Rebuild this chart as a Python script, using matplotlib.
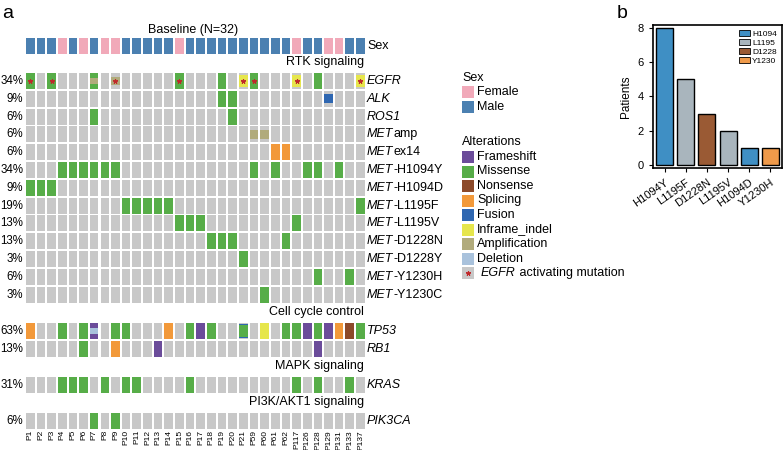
import matplotlib.pyplot as plt
from matplotlib.patches import Rectangle

# patients (columns)
patients = ['P%d' % i for i in range(1, 22)] + ['P59', 'P60', 'P61', 'P62', 'P117', 'P126',
                                              'P128', 'P129', 'P131', 'P133', 'P137']
# sex: F/M per patient
sex = ['M', 'M', 'M', 'F', 'M', 'F', 'M', 'F', 'F', 'M', 'M', 'M', 'M', 'M', 'F', 'M',
       'M', 'M', 'M', 'M', 'M', 'M', 'M', 'M', 'M', 'F', 'M', 'M', 'F', 'F', 'M', 'M']

# alterations: (row, gene, suffix, {column index: list of alteration types})
groups = [
    ('RTK signaling', [
        ('EGFR', 'EGFR', '', {0: ['mis', 'star'], 2: ['mis', 'star'], 6: ['mis', 'amp'], 8: ['amp', 'star'],
                               14: ['mis', 'star'], 18: ['mis'], 20: ['inf', 'star'], 21: ['mis', 'star'],
                               25: ['inf', 'star'], 27: ['mis'], 31: ['inf', 'star']}),
        ('ALK', 'ALK', '', {18: ['mis'], 19: ['mis'], 28: ['fus']}),
        ('ROS1', 'ROS1', '', {6: ['mis'], 19: ['mis']}),
        ('METamp', 'MET', 'amp', {21: ['amp'], 22: ['amp']}),
        ('METex14', 'MET', 'ex14', {23: ['spl'], 24: ['spl']}),
        ('MET-H1094Y', 'MET', '-H1094Y', {i: ['mis'] for i in [3, 4, 5, 6, 7, 8, 21, 23, 26, 27, 29]}),
        ('MET-H1094D', 'MET', '-H1094D', {i: ['mis'] for i in [0, 1, 2]}),
        ('MET-L1195F', 'MET', '-L1195F', {i: ['mis'] for i in [9, 10, 11, 12, 13, 31]}),
        ('MET-L1195V', 'MET', '-L1195V', {i: ['mis'] for i in [14, 15, 16, 25]}),
        ('MET-D1228N', 'MET', '-D1228N', {i: ['mis'] for i in [17, 18, 19, 24]}),
        ('MET-D1228Y', 'MET', '-D1228Y', {20: ['mis']}),
        ('MET-Y1230H', 'MET', '-Y1230H', {27: ['mis'], 30: ['mis']}),
        ('MET-Y1230C', 'MET', '-Y1230C', {22: ['mis']}),
    ]),
    ('Cell cycle control', [
        ('TP53', 'TP53', '', {0: ['spl'], 3: ['mis'], 5: ['mis'], 6: ['fs', 'del'], 8: ['mis'], 9: ['mis'],
                               13: ['spl'], 15: ['mis'], 16: ['fs'], 17: ['mis'], 20: ['fus', 'mis'],
                               22: ['inf'], 24: ['mis'], 25: ['mis'], 26: ['fs'], 27: ['mis'], 28: ['fs'],
                               29: ['spl'], 30: ['non'], 31: ['mis']}),
        ('RB1', 'RB1', '', {5: ['mis'], 8: ['spl'], 12: ['fs'], 27: ['fs']}),
    ]),
    ('MAPK signaling', [
        ('KRAS', 'KRAS', '', {i: ['mis'] for i in [3, 4, 5, 7, 9, 10, 15, 25, 27, 30]}),
    ]),
    ('PI3K/AKT1 signaling', [
        ('PIK3CA', 'PIK3CA', '', {6: ['mis'], 8: ['mis']}),
    ]),
]

colors = {'fs': '#6b4c9a', 'mis': '#57ad48', 'non': '#8c4a2a', 'spl': '#f2993a', 'fus': '#2f67b1',
          'inf': '#e6e64c', 'amp': '#b1ab7c', 'del': '#a9c2dc'}
legend_names = [('fs', 'Frameshift'), ('mis', 'Missense'), ('non', 'Nonsense'), ('spl', 'Splicing'),
                ('fus', 'Fusion'), ('inf', 'Inframe_indel'), ('amp', 'Amplification'), ('del', 'Deletion')]
sex_colors = {'F': '#f1a9b9', 'M': '#4b80b1'}
grey = '#c8c8c8'

# panel b
bar_labels = ['H1094Y', 'L1195F', 'D1228N', 'L1195V', 'H1094D', 'Y1230H']
bar_values = [8, 5, 3, 2, 1, 1]
bar_groups = ['H1094', 'L1195', 'D1228', 'L1195', 'H1094', 'Y1230']
group_colors = {'H1094': '#3f8fc4', 'L1195': '#a9b5bd', 'D1228': '#9a5a34', 'Y1230': '#ef9a4a'}

plt.rcParams['font.family'] = 'Liberation Sans'
fig = plt.figure(figsize=(7.84, 4.5), dpi=100)
ax = fig.add_axes([0, 0, 1, 1])
ax.set_xlim(0, 784)
ax.set_ylim(450, 0)
ax.axis('off')

x0, cw, w = 26, 10.65, 8.6
h = 16
lab_x = 367
fs = 9

def cell(i, yc, kind, frac=1.0):
    ax.add_patch(Rectangle((x0 + i * cw, yc - h * frac / 2), w, h * frac, color=colors.get(kind, kind), lw=0))

ax.text(193, 30, 'Baseline (N=32)', ha='center', va='center', fontsize=fs)
ysex = 46
for i, s in enumerate(sex):
    cell(i, ysex, sex_colors[s])
ax.text(lab_x, ysex, 'Sex', va='center', fontsize=fs)

y = 62
for gname, genes in groups:
    ax.text(lab_x - 3, y, gname, ha='right', va='center', fontsize=fs)
    y += 19
    for row, gene, suffix, alts in genes:
        n = len(alts)
        ax.text(23.5, y, '%d%%' % int(100 * n / len(patients) + 0.5), ha='right', va='center', fontsize=8.3)
        t = ax.text(lab_x, y, gene, style='italic', va='center', fontsize=fs)
        if suffix:
            ax.annotate(suffix, xy=(1, 0.5), xycoords=t, va='center', fontsize=fs)
        for i in range(len(patients)):
            cell(i, y, grey)
            a = alts.get(i, [])
            for k in a:
                if k == 'mis':
                    cell(i, y, 'mis', 0.75 if 'fus' in a else 1.0)
                elif k == 'fus':
                    cell(i, y, k, 0.9 if 'mis' in a else 0.55)
                elif k in ('amp', 'del'):
                    cell(i, y, k, 0.35 if ('mis' in a or 'fs' in a) else 0.55)
                elif k == 'inf':
                    cell(i, y, k, 0.7 if 'star' in a else 1.0)
                elif k in ('fs', 'non', 'spl'):
                    cell(i, y, k)
            if 'star' in a:
                ax.plot(x0 + i * cw + w / 2, y, marker=(5, 2, 0), color='#c0282a', ms=3.5, mew=0.8)
        y += 17.8
    y -= 0.5

for i, p in enumerate(patients):
    ax.text(x0 + i * cw + w / 2, 430, p, rotation=90, ha='center', va='top', fontsize=6)

# legend
lx = 462
ax.text(lx, 78, 'Sex', fontsize=fs, va='center')
for j, (k, nm) in enumerate([('F', 'Female'), ('M', 'Male')]):
    ax.add_patch(Rectangle((lx, 86 + j * 14.5), 12, 12, color=sex_colors[k], lw=0))
    ax.text(lx + 15, 92 + j * 14.5, nm, fontsize=fs, va='center')
ax.text(lx, 142, 'Alterations', fontsize=fs, va='center')
for j, (k, nm) in enumerate(legend_names + [('star', '')]):
    yy = 157 + j * 14.5
    ax.add_patch(Rectangle((lx, yy - 6), 12, 12, color=colors.get(k, grey), lw=0))
    ax.text(lx + 15, yy, nm, fontsize=fs, va='center')
yy = 157 + 8 * 14.5
ax.plot(lx + 6, yy, marker=(5, 2, 0), color='#c0282a', ms=3.5, mew=0.8)
t = ax.text(lx + 19, yy, 'EGFR', style='italic', fontsize=fs, va='center')
ax.annotate(' activating mutation', xy=(1, 0.5), xycoords=t, va='center', fontsize=fs)

ax.text(2, 13, 'a', fontsize=14, va='center')
ax.text(617, 13, 'b', fontsize=14, va='center')

# panel b
bx = fig.add_axes([653 / 784, 1 - 168 / 450, 129 / 784, 143 / 450])
bx.bar(range(len(bar_values)), bar_values, width=0.8,
       color=[group_colors[g] for g in bar_groups], edgecolor='black', lw=1)
bx.set_xticks(range(len(bar_labels)))
bx.set_xticklabels(bar_labels, rotation=35, ha='right', rotation_mode='anchor', fontsize=8)
bx.set_yticks([0, 2, 4, 6, 8])
bx.tick_params(labelsize=8, length=3)
bx.set_ylim(-0.2, 8.2)
bx.set_xlim(-0.55, 5.55)
bx.set_ylabel('Patients', fontsize=8.5)
for s in bx.spines.values():
    s.set_linewidth(1.2)
handles = [Rectangle((0, 0), 1, 1, facecolor=c, edgecolor='black', lw=0.6) for c in group_colors.values()]
bx.legend(handles, list(group_colors), loc='upper right', fontsize=6, frameon=False,
          handlelength=1.3, handleheight=0.8, labelspacing=0.1, borderpad=0.1, handletextpad=0.3)

fig.savefig('out.png', dpi=100)
